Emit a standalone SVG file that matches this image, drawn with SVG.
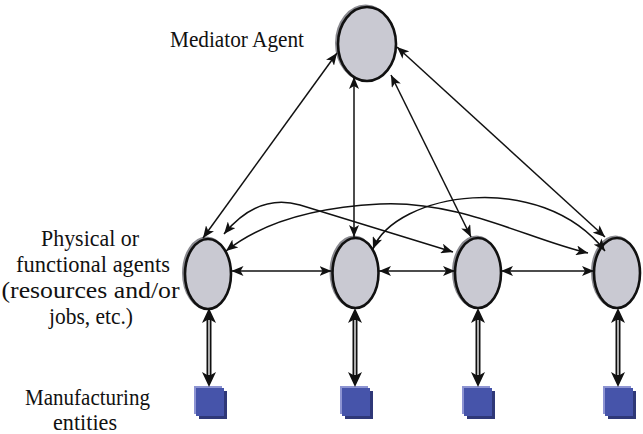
<svg xmlns="http://www.w3.org/2000/svg" width="643" height="434" viewBox="0 0 643 434">
<style>
text{font-family:"Liberation Serif","Times New Roman",serif;font-size:22.5px;fill:#111}
.sh{fill:none;stroke:#8a8a90;stroke-width:3}
.el{fill:#c9c9d2;stroke:#111;stroke-width:2.6}
.c{fill:none;stroke:#111;stroke-width:1.5;marker-start:url(#a);marker-end:url(#a)}
.d{fill:none;stroke:#111;stroke-width:5;marker-start:url(#b);marker-end:url(#b)}
.w{stroke:#fff;stroke-width:1.3}
.lt{fill:#8d94d2}.dk{fill:#2f3878}.mn{fill:#4654aa}
</style>
<defs>
<marker id="a" viewBox="0 0 12 10" refX="12" refY="5" markerWidth="12" markerHeight="10" markerUnits="userSpaceOnUse" orient="auto-start-reverse"><path d="M0,0 L12,5 L0,10 L3,5 Z" fill="#111"/></marker>
<marker id="b" viewBox="0 0 15 14" refX="7" refY="7" markerWidth="15" markerHeight="14" markerUnits="userSpaceOnUse" orient="auto-start-reverse"><path d="M0,0 L15,7 L0,14 L4,7 Z" fill="#111"/></marker>
</defs>
<g id="labels">
<text x="237" y="47" text-anchor="middle" textLength="134" lengthAdjust="spacingAndGlyphs">Mediator Agent</text>
<text x="90" y="246" text-anchor="middle" textLength="98" lengthAdjust="spacingAndGlyphs">Physical or</text>
<text x="93" y="272" text-anchor="middle" textLength="154" lengthAdjust="spacingAndGlyphs">functional agents</text>
<text x="90.5" y="298" text-anchor="middle" textLength="178" lengthAdjust="spacingAndGlyphs">(resources and/or</text>
<text x="91" y="324" text-anchor="middle" textLength="84" lengthAdjust="spacingAndGlyphs">jobs, etc.)</text>
<text x="87.5" y="405" text-anchor="middle" textLength="125" lengthAdjust="spacingAndGlyphs">Manufacturing</text>
<text x="85" y="430" text-anchor="middle" textLength="64" lengthAdjust="spacingAndGlyphs">entities</text>
</g>
<g id="mediator"><ellipse class="sh" cx="365.5" cy="43" rx="29" ry="37"/><ellipse class="el" cx="367" cy="44" rx="29" ry="37"/></g>
<g id="agent1"><ellipse class="sh" cx="206.5" cy="273" rx="23" ry="35"/><ellipse class="el" cx="208" cy="274" rx="23" ry="35"/></g>
<g id="agent2"><ellipse class="sh" cx="354" cy="272" rx="23" ry="35"/><ellipse class="el" cx="355.5" cy="273" rx="23" ry="35"/></g>
<g id="agent3"><ellipse class="sh" cx="476.5" cy="272" rx="23" ry="35"/><ellipse class="el" cx="478" cy="273" rx="23" ry="35"/></g>
<g id="agent4"><ellipse class="sh" cx="615.5" cy="272" rx="23" ry="35"/><ellipse class="el" cx="617" cy="273" rx="23" ry="35"/></g>
<g id="entity1"><rect class="lt" x="194" y="386" width="28" height="28"/><rect class="dk" x="199" y="391" width="28" height="28"/><rect class="mn" x="196" y="388" width="28" height="28"/></g>
<g id="entity2"><rect class="lt" x="340" y="386" width="28" height="28"/><rect class="dk" x="345" y="391" width="28" height="28"/><rect class="mn" x="342" y="388" width="28" height="28"/></g>
<g id="entity3"><rect class="lt" x="462" y="386" width="28" height="28"/><rect class="dk" x="467" y="391" width="28" height="28"/><rect class="mn" x="464" y="388" width="28" height="28"/></g>
<g id="entity4"><rect class="lt" x="603" y="386" width="28" height="28"/><rect class="dk" x="608" y="391" width="28" height="28"/><rect class="mn" x="605" y="388" width="28" height="28"/></g>
<g id="connectors">
<path class="c" d="M337,53 L203,238"/>
<path class="c" d="M354,77 L354,237"/>
<path class="c" d="M391,75 L471,237"/>
<path class="c" d="M397,47 L605,237"/>
<path class="c" d="M231.5,271 L331.5,271"/>
<path class="c" d="M379,271 L455,271"/>
<path class="c" d="M501,271 L594,271"/>
<path class="c" d="M224,234 Q258,193 300,205 L453,252"/>
<path class="c" d="M226,251 C255,228 300,208 380,204 S530,240 588,253"/>
<path class="c" d="M373,249 C395,193 540,168 605,251"/>
<path class="d" d="M209,316 L209,379"/><path class="w" d="M209,320 L209,375"/>
<path class="d" d="M355,316 L355,379"/><path class="w" d="M355,320 L355,375"/>
<path class="d" d="M478,316 L478,379"/><path class="w" d="M478,320 L478,375"/>
<path class="d" d="M618,316 L618,379"/><path class="w" d="M618,320 L618,375"/>
</g>
</svg>
